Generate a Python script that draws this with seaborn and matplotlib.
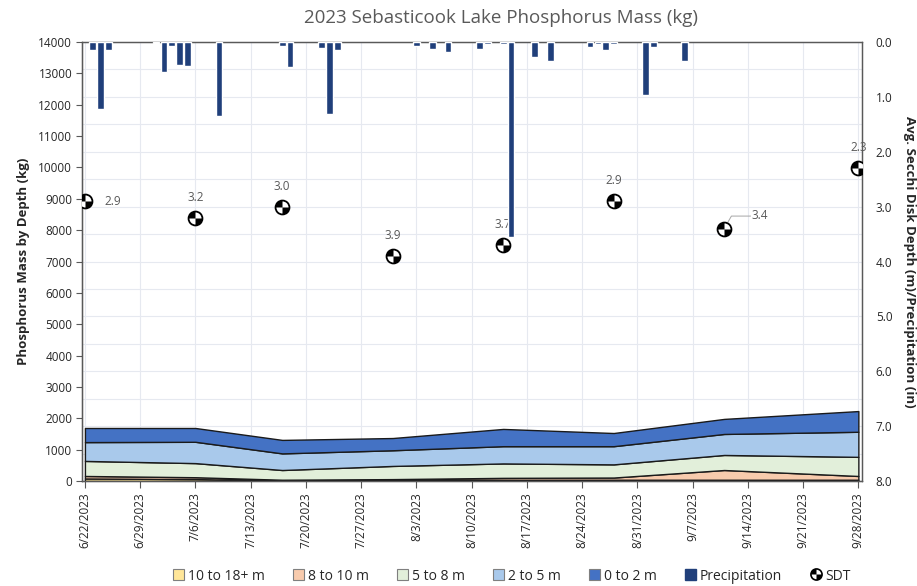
import numpy as np
import pandas as pd
import matplotlib
matplotlib.use("Agg")
import matplotlib.pyplot as plt
import matplotlib.dates as mdates
from matplotlib.path import Path
from matplotlib.patches import Patch
from matplotlib.lines import Line2D
import seaborn as sns

# ---------------- data ----------------
sample_dates = ["2023-06-22", "2023-07-06", "2023-07-17", "2023-07-31",
                "2023-08-14", "2023-08-28", "2023-09-11", "2023-09-28"]
layer_names = ["10 to 18+ m", "8 to 10 m", "5 to 8 m", "2 to 5 m", "0 to 2 m"]
mass_10_18 = [80, 60, 20, 30, 40, 40, 40, 40]
mass_8_10 = [80, 60, 20, 30, 60, 70, 310, 120]
mass_5_8 = [480, 450, 310, 420, 460, 420, 480, 610]
mass_2_5 = [600, 680, 530, 500, 550, 580, 670, 800]
mass_0_2 = [450, 440, 430, 390, 550, 420, 480, 660]

sdt_values = [2.9, 3.2, 3.0, 3.9, 3.7, 2.9, 3.4, 2.3]

precip_dates = ["2023-06-23", "2023-06-24", "2023-06-25", "2023-07-01", "2023-07-02",
                "2023-07-03", "2023-07-04", "2023-07-05", "2023-07-09", "2023-07-17",
                "2023-07-18", "2023-07-22", "2023-07-23", "2023-07-24", "2023-08-03",
                "2023-08-05", "2023-08-07", "2023-08-11", "2023-08-12", "2023-08-14",
                "2023-08-15", "2023-08-18", "2023-08-20", "2023-08-25", "2023-08-26",
                "2023-08-27", "2023-08-28", "2023-09-01", "2023-09-02", "2023-09-06"]
precip_in = [0.15, 1.22, 0.15, 0.02, 0.54,
             0.08, 0.41, 0.44, 1.34, 0.07,
             0.46, 0.10, 1.31, 0.14, 0.07,
             0.13, 0.19, 0.13, 0.03, 0.04,
             3.55, 0.28, 0.35, 0.09, 0.03,
             0.14, 0.03, 0.96, 0.09, 0.34]

tick_dates = pd.date_range("2023-06-22", "2023-09-28", freq="7D")

# ---------------- style ----------------
sns.set_theme(style="white")
plt.rcParams["font.family"] = ["Open Sans", "DejaVu Sans"]

layer_colors = ["#FFE699", "#F8CBAD", "#E2EFDA", "#A9C9EB", "#4472C4"]
precip_color = "#203F7A"
text_gray = "#595959"

sd = pd.to_datetime(sample_dates)
pdts = pd.to_datetime(precip_dates)

fig = plt.figure(figsize=(9.17, 5.86), dpi=100)
ax = fig.add_axes([0.0894, 0.1792, 0.8506, 0.7491])
ax2 = ax.twinx()

# gridlines (behind the areas)
for v in np.linspace(0, 14000, 17):
    ax.axhline(v, color="#E6E9F0", lw=0.8, zorder=0)
ax.set_xticks(tick_dates)
ax.grid(axis="x", color="#E6E9F0", lw=0.8)
ax.set_axisbelow(True)

ax.stackplot(sd, mass_10_18, mass_8_10, mass_5_8, mass_2_5, mass_0_2,
             colors=layer_colors, edgecolor="#1a1a1a", linewidth=1.0, zorder=2)

ax.set_xlim(pd.Timestamp("2023-06-22") - pd.Timedelta(hours=9),
            pd.Timestamp("2023-09-28") + pd.Timedelta(hours=11))
ax.set_ylim(0, 14000)
ax.set_yticks(np.arange(0, 14001, 1000))
ax.set_yticklabels([str(v) for v in range(0, 14001, 1000)], fontsize=8.5, color="#262626")
ax.xaxis.set_major_formatter(mdates.DateFormatter("%-m/%-d/%Y"))
for lbl in ax.get_xticklabels():
    lbl.set_rotation(90)
    lbl.set_fontsize(8.5)
    lbl.set_color("#262626")
ax.tick_params(axis="x", direction="out", length=5, width=0.8, color="#595959", bottom=True, pad=3)
ax.tick_params(axis="y", direction="out", length=4, width=0.8, color="#595959", left=True, pad=3)
ax.set_ylabel("Phosphorus Mass by Depth (kg)", fontsize=9.5, fontweight="bold", color="#262626", labelpad=6)

# precipitation bars and SDT on secondary axis (inverted)
ax2.bar(pdts, precip_in, width=0.85, color=precip_color, zorder=3)
ax2.set_ylim(8, 0)
ax2.set_yticks(np.arange(0, 8.01, 1.0))
ax2.set_yticklabels([f"{v:.1f}" for v in np.arange(0, 8.01, 1.0)], fontsize=8.5, color="#262626")
ax2.tick_params(axis="y", direction="out", length=0, pad=10)
ax2.set_ylabel("Avg. Secchi Disk Depth (m)/Precipitation (in)", fontsize=9.5, fontweight="bold",
               color="#262626", rotation=270, labelpad=17)
ax2.grid(False)

sdt_df = pd.DataFrame({"date": sd, "sdt": sdt_values})
sns.scatterplot(data=sdt_df, x="date", y="sdt", ax=ax2, s=100, color="white",
                edgecolor="black", linewidth=1.3, zorder=4, legend=False)
quarters = Path.make_compound_path(Path.wedge(90, 180), Path.wedge(270, 360))
ax2.scatter(sd, sdt_values, s=100, marker=quarters, color="black", zorder=5, linewidths=0)

offsets = [(14, 0, "left", "center"), (0, 10, "center", "bottom"), (0, 10, "center", "bottom"),
           (0, 10, "center", "bottom"), (0, 10, "center", "bottom"), (0, 10, "center", "bottom"),
           (20, 5, "left", "bottom"), (0, 10, "center", "bottom")]
for d, v, (dx, dy, ha, va) in zip(sd, sdt_values, offsets):
    ax2.annotate(f"{v:.1f}", (d, v), xytext=(dx, dy), textcoords="offset points",
                 ha=ha, va=va, fontsize=8.5, color=text_gray, zorder=2)
# leader line for the 3.4 label
ax2.annotate("", (sd[6], sdt_values[6]), xytext=(19, 9), textcoords="offset points",
             arrowprops=dict(arrowstyle="-", color="#A6A6A6", lw=0.7,
                             connectionstyle="angle,angleA=0,angleB=60", shrinkA=0, shrinkB=5))

for a in (ax, ax2):
    for s in a.spines.values():
        s.set_color("#595959")
        s.set_linewidth(0.9)
ax.spines["left"].set_color("#262626")
ax.spines["bottom"].set_color("#262626")

fig.suptitle("2023 Sebasticook Lake Phosphorus Mass (kg)", x=0.546, y=0.985,
             fontsize=13.5, color=text_gray)

# legend
handles = [Patch(facecolor=c, edgecolor="#7f7f7f", linewidth=0.8) for c in layer_colors]
handles.append(Patch(facecolor=precip_color, edgecolor=precip_color))
sdt_circle = Line2D([0], [0], marker="o", color="none", markerfacecolor="white",
                    markeredgecolor="black", markeredgewidth=1.2, markersize=8)
sdt_quarters = Line2D([0], [0], marker=quarters, color="none", markerfacecolor="black",
                      markeredgewidth=0, markersize=8)
handles.append((sdt_circle, sdt_quarters))
labels = layer_names + ["Precipitation", "SDT"]
leg = fig.legend(handles, labels, loc="center", bbox_to_anchor=(0.558, 0.017), ncol=7,
                 frameon=False, fontsize=10, handlelength=0.8, handleheight=0.8,
                 handletextpad=0.3, columnspacing=2.0)
for t in leg.get_texts():
    t.set_color("#262626")

fig.savefig("out.png", dpi=100)
